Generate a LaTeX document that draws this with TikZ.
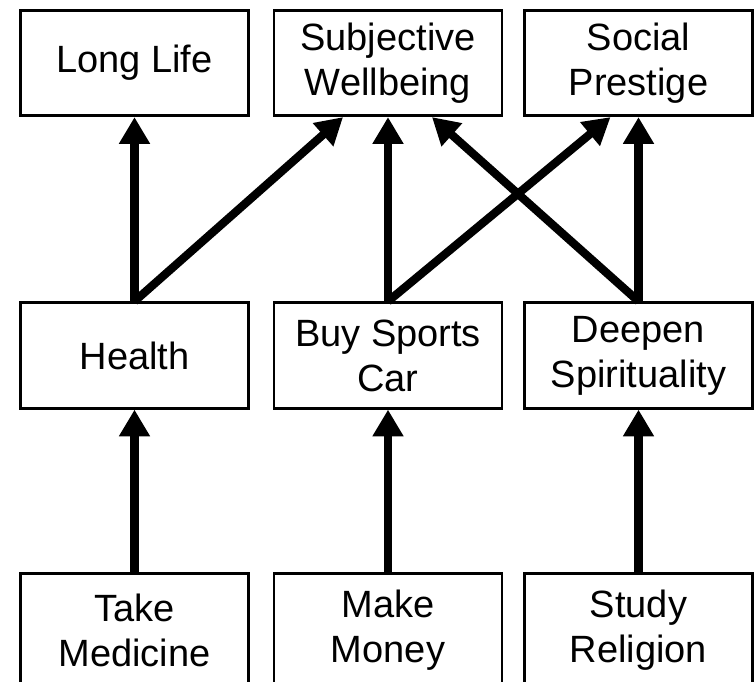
\documentclass[tikz,border=0pt]{standalone}
\usepackage{fontspec}
\setmainfont{Liberation Sans}
\usetikzlibrary{arrows.meta,calc}

\begin{document}
\begin{tikzpicture}[x=0.75pt,y=-0.75pt,
    box/.style={draw, line width=2.2pt, minimum width=171pt, minimum height=79pt,
      inner sep=0pt, align=center, font=\fontsize{28.5}{33.75}\selectfont},
    link/.style={line width=6.2pt, -{Triangle[length=20pt,width=22pt]}}]
  \useasboundingbox (0,0) rectangle (755,681);

  % goals
  \node[box] (life)      at (134.5,63) {Long Life};
  \node[box] (wellbeing) at (388,63)   {Subjective\\Wellbeing};
  \node[box] (prestige)  at (638.5,63) {Social\\Prestige};

  % intermediate states
  \node[box] (health) at (134.5,355.5) {Health};
  \node[box] (car)    at (388,355.5)   {Buy Sports\\Car};
  \node[box] (spirit) at (638.5,355.5) {Deepen\\Spirituality};

  % actions (cut off at the bottom edge)
  \node[box, minimum height=85pt] (medicine) at (134.5,630) {Take\\Medicine};
  \node[box, minimum height=85pt] (money)    at (388,630)   {Make\\Money};
  \node[box, minimum height=85pt] (religion) at (638.5,630) {Study\\Religion};

  \draw[link] (medicine) -- (health);
  \draw[link] (money) -- (car);
  \draw[link] (religion) -- (spirit);

  \draw[link] (health.north) -- (life.south);
  \draw[link] (health.north) -- ($(wellbeing.south)+(-45,0)$);
  \draw[link] (car.north) -- (wellbeing.south);
  \draw[link] (car.north) -- ($(prestige.south)+(-28,0)$);
  \draw[link] (spirit.north) -- (prestige.south);
  \draw[link] (spirit.north) -- ($(wellbeing.south)+(44,0)$);
\end{tikzpicture}
\end{document}
